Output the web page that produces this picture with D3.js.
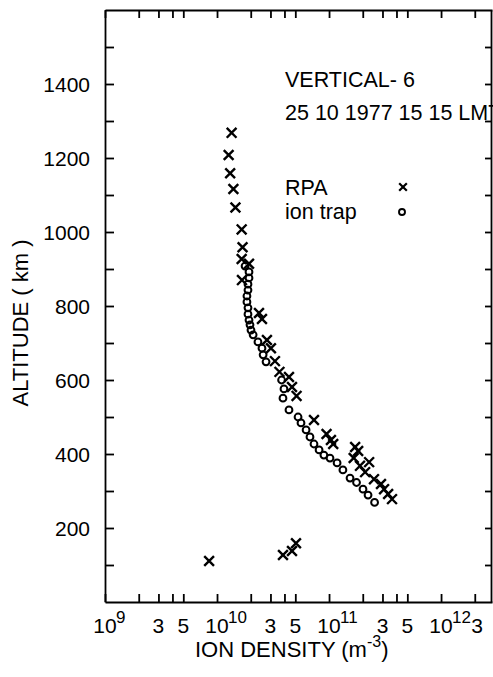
<html>
<head>
<meta charset="utf-8">
<script src="https://d3js.org/d3.v7.min.js"></script>
<style>
    body {
        margin: 0;
        padding: 0;
        background: white;
    }
    text {
        font-family: "Liberation Sans", Arial, sans-serif;
        fill: black;
    }
    .axis path, .axis line {
        stroke: black;
        stroke-width: 1.8;
    }
</style>
</head>
<body>
<script>
// RPA (crosses): density in m^-3, altitude in km
var rpaDensity = [1.35e10, 1.27e10, 1.31e10, 1.40e10, 1.46e10, 1.66e10, 1.69e10, 1.66e10, 1.93e10, 1.67e10,
                  2.37e10, 2.52e10, 2.79e10, 3.03e10, 3.29e10, 3.61e10, 4.39e10, 4.67e10, 5.13e10, 7.34e10,
                  9.5e10, 1.04e11, 1.09e11, 1.71e11, 1.82e11, 1.66e11, 2.28e11, 1.89e11, 2.10e11, 2.52e11,
                  2.91e11, 3.10e11, 3.37e11, 3.65e11,
                  8.5e9, 3.88e10, 4.67e10, 5.07e10];
var rpaAltitude = [1268, 1208, 1159, 1116, 1066, 1007, 959, 927, 914, 870,
                   781, 765, 708, 686, 651, 622, 608, 581, 557, 492,
                   454, 438, 427, 419, 408, 389, 378, 368, 351, 332,
                   319, 305, 292, 278,
                   111, 127, 138, 159];

// ion trap (circles)
var trapDensity = [1.78e10, 1.93e10, 1.93e10, 1.89e10, 1.89e10, 1.85e10, 1.85e10, 1.89e10, 1.89e10, 1.93e10,
                   1.97e10, 2.01e10, 2.10e10, 2.32e10, 2.52e10, 2.58e10, 2.74e10,
                   3.77e10, 3.96e10, 3.88e10, 4.39e10, 5.29e10, 5.62e10, 6.24e10, 6.76e10, 7.34e10,
                   8.15e10, 9.0e10, 1.02e11, 1.18e11, 1.33e11, 1.54e11, 1.76e11, 2.01e11, 2.23e11, 2.55e11];
var trapAltitude = [908, 892, 876, 859, 843, 827, 811, 795, 778, 762,
                    749, 735, 722, 703, 686, 668, 649,
                    600, 576, 551, 519, 500, 484, 465, 446, 427,
                    411, 397, 389, 376, 357, 335, 323, 305, 289, 269];

var xTickValues = [1e9, 2e9, 3e9, 4e9, 5e9, 1e10, 2e10, 3e10, 4e10, 5e10,
                   1e11, 2e11, 3e11, 4e11, 5e11, 1e12, 2e12];
var xLabelValues = [1e9, 3e9, 5e9, 1e10, 3e10, 5e10, 1e11, 3e11, 5e11, 1e12, 3e12];
var yTickValues = [100, 200, 300, 400, 500, 600, 700, 800, 900, 1000, 1100, 1200, 1300, 1400, 1500];

var titleLines = ["VERTICAL- 6", "25 10 1977 15 15 LMT"];
var legendNames = ["RPA", "ion trap"];

var w = 493;
var h = 677;

var x = d3.scaleLog()
          .domain([1e9, 2.85e12])
          .range([105, 492]);

var y = d3.scaleLinear()
          .domain([0, 1600])
          .range([602, 10]);

var svg = d3.select("body")
            .append("svg")
            .attr("width", w)
            .attr("height", h);

// bottom axis
svg.append("g")
   .attr("class", "axis")
   .attr("transform", "translate(0," + y(0) + ")")
   .call(d3.axisBottom(x).tickValues(xTickValues).tickSize(-8).tickSizeOuter(0).tickFormat(""));

// top axis
svg.append("g")
   .attr("class", "axis")
   .attr("transform", "translate(0," + y(1600) + ")")
   .call(d3.axisTop(x).tickValues(xTickValues).tickSize(-8).tickSizeOuter(0).tickFormat(""));

// left axis
svg.append("g")
   .attr("class", "axis")
   .attr("transform", "translate(" + x.range()[0] + ",0)")
   .call(d3.axisLeft(y).tickValues(yTickValues).tickSize(-9).tickSizeOuter(0).tickPadding(15)
          .tickFormat(function(d) { return d % 200 == 0 ? d : ""; }))
   .selectAll("text")
   .style("font-size", "21px")
   .attr("dy", "0.36em");

// right axis
svg.append("g")
   .attr("class", "axis")
   .attr("transform", "translate(" + (x.range()[1] - 1) + ",0)")
   .call(d3.axisRight(y).tickValues(yTickValues).tickSize(-6).tickSizeOuter(0).tickFormat(""));

svg.selectAll(".axis text").attr("fill", "black");

// x tick labels with superscripts for the decades
var xLab = svg.append("g");
xLabelValues.forEach(function(d) {
    var e = Math.floor(Math.log10(d) + 1e-9);
    var m = Math.round(d / Math.pow(10, e));
    var px = Math.min(x(d), 477);
    if (m == 1) {
        xLab.append("text")
            .attr("x", px)
            .attr("y", 633)
            .attr("text-anchor", "middle")
            .style("font-size", "21px")
            .text("10");
        xLab.append("text")
            .attr("x", px + 11)
            .attr("y", 623)
            .style("font-size", "17px")
            .text(e);
    } else {
        xLab.append("text")
            .attr("x", px)
            .attr("y", 633)
            .attr("text-anchor", "middle")
            .style("font-size", "21px")
            .text(m);
    }
});

// axis titles
var xt = svg.append("text")
            .attr("x", 195)
            .attr("y", 657)
            .style("font-size", "22px");
xt.append("tspan").text("ION DENSITY (m");
xt.append("tspan").attr("dy", -10).style("font-size", "16px").text("-3");
xt.append("tspan").attr("dy", 10).text(")");

svg.append("text")
   .attr("transform", "translate(28,323) rotate(-90)")
   .attr("text-anchor", "middle")
   .style("font-size", "22px")
   .text("ALTITUDE ( km )");

// data
var cross = d3.symbol().type(d3.symbolX).size(64);

svg.append("g")
   .selectAll("path")
   .data(d3.range(rpaDensity.length))
   .enter()
   .append("path")
   .attr("transform", function(i) { return "translate(" + x(rpaDensity[i]) + "," + y(rpaAltitude[i]) + ")"; })
   .attr("d", cross)
   .attr("fill", "none")
   .attr("stroke", "black")
   .attr("stroke-width", 2.4);

svg.append("g")
   .selectAll("circle")
   .data(d3.range(trapDensity.length))
   .enter()
   .append("circle")
   .attr("cx", function(i) { return x(trapDensity[i]); })
   .attr("cy", function(i) { return y(trapAltitude[i]); })
   .attr("r", 3.4)
   .attr("fill", "none")
   .attr("stroke", "black")
   .attr("stroke-width", 2);

// title and legend
svg.selectAll(".title")
   .data(titleLines)
   .enter()
   .append("text")
   .attr("class", "title")
   .attr("x", 285)
   .attr("y", function(d, i) { return 87 + i * 33; })
   .style("font-size", "21.5px")
   .text(function(d) { return d; });

svg.selectAll(".legend")
   .data(legendNames)
   .enter()
   .append("text")
   .attr("class", "legend")
   .attr("x", 285)
   .attr("y", function(d, i) { return 195 + i * 24; })
   .style("font-size", "21.5px")
   .text(function(d) { return d; });

svg.append("path")
   .attr("transform", "translate(403,187)")
   .attr("d", d3.symbol().type(d3.symbolX).size(40))
   .attr("stroke", "black")
   .attr("stroke-width", 2.2);

svg.append("circle")
   .attr("cx", 402)
   .attr("cy", 212)
   .attr("r", 3)
   .attr("fill", "none")
   .attr("stroke", "black")
   .attr("stroke-width", 1.9);
</script>
</body>
</html>
